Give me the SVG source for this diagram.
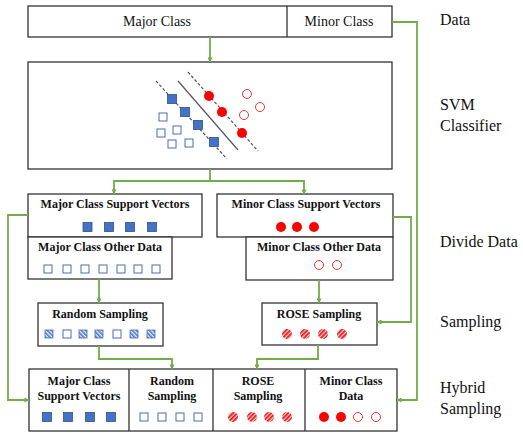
<svg xmlns="http://www.w3.org/2000/svg" width="523" height="433" viewBox="0 0 523 433">
<defs>
<style>
.box{fill:#fff;stroke:#333;stroke-width:1.3}
.t{font-family:"Liberation Serif","Times New Roman",serif;fill:#111}
.tb{font-family:"Liberation Serif","Times New Roman",serif;font-weight:bold;font-size:12px;fill:#111;text-anchor:middle}
.lab{font-family:"Liberation Serif","Times New Roman",serif;font-size:16px;fill:#111}
.c{fill:none;stroke:#70AD47;stroke-width:1.8;marker-end:url(#ah)}
.cn{fill:none;stroke:#70AD47;stroke-width:1.8}
.sf{fill:#4472C4;stroke:#2F528F;stroke-width:0.8}
.se{fill:#fff;stroke:#4a6fb0;stroke-width:1}
.sh{fill:url(#hb);stroke:#4a6fb0;stroke-width:0.8}
.cf{fill:#f00}
.ce{fill:#fff;stroke:#e33;stroke-width:1}
.ch{fill:url(#hr)}
</style>
<marker id="ah" viewBox="0 0 6 6" refX="5.5" refY="3" markerWidth="5" markerHeight="5" markerUnits="userSpaceOnUse" orient="auto">
<path d="M0,0 L6,3 L0,6 Z" fill="#70AD47"/>
</marker>
<pattern id="hb" width="3" height="3" patternUnits="userSpaceOnUse" patternTransform="rotate(-45)">
<rect width="3" height="3" fill="#e4ebf7"/><rect width="1.5" height="3" fill="#4472C4"/>
</pattern>
<pattern id="hr" width="3" height="3" patternUnits="userSpaceOnUse" patternTransform="rotate(45)">
<rect width="3" height="3" fill="#fbd0d0"/><rect width="1.8" height="3" fill="#ee1c1c"/>
</pattern>
</defs>

<g id="labels">
<text class="lab" x="440" y="25">Data</text>
<text class="lab" x="440" y="110">SVM</text>
<text class="lab" x="440" y="131">Classifier</text>
<text class="lab" x="440" y="247">Divide Data</text>
<text class="lab" x="440" y="327">Sampling</text>
<text class="lab" x="440" y="393">Hybrid</text>
<text class="lab" x="440" y="414">Sampling</text>
</g>

<g id="data">
<rect class="box" x="28" y="6" width="364" height="31"/>
<line x1="287" y1="6" x2="287" y2="37" stroke="#333" stroke-width="1.3"/>
<text class="t" x="157" y="26" font-size="14" text-anchor="middle">Major Class</text>
<text class="t" x="339" y="26" font-size="14" text-anchor="middle">Minor Class</text>
</g>

<g id="svm">
<rect class="box" x="28" y="62" width="364" height="107"/>
<line x1="156" y1="81" x2="227" y2="159" stroke="#555" stroke-width="1.2" stroke-dasharray="3,2"/>
<line x1="178" y1="81" x2="238" y2="150" stroke="#555" stroke-width="1.2"/>
<line x1="188" y1="72" x2="258" y2="151" stroke="#555" stroke-width="1.2" stroke-dasharray="3,2"/>
<rect class="sf" x="167.5" y="94.5" width="9" height="9"/>
<rect class="sf" x="180.5" y="107.5" width="9" height="9"/>
<rect class="sf" x="193.5" y="120.5" width="9" height="9"/>
<rect class="sf" x="209.5" y="137.5" width="9" height="9"/>
<rect class="se" x="159" y="113" width="8" height="8"/>
<rect class="se" x="157" y="129" width="8" height="8"/>
<rect class="se" x="173" y="126" width="8" height="8"/>
<rect class="se" x="168" y="140" width="8" height="8"/>
<rect class="se" x="185" y="139" width="8" height="8"/>
<circle class="cf" cx="209" cy="96" r="5"/>
<circle class="cf" cx="222" cy="112" r="5"/>
<circle class="cf" cx="242" cy="133" r="5"/>
<circle class="ce" cx="247" cy="94" r="4.5"/>
<circle class="ce" cx="260" cy="107" r="4.5"/>
<circle class="ce" cx="244" cy="115" r="4.5"/>
</g>

<g id="major-sv">
<rect class="box" x="28" y="194" width="174" height="43"/>
<text class="tb" x="115" y="208">Major Class Support Vectors</text>
<rect class="sf" x="83" y="222.5" width="9" height="9"/>
<rect class="sf" x="104.5" y="222.5" width="9" height="9"/>
<rect class="sf" x="125.5" y="222.5" width="9" height="9"/>
<rect class="sf" x="147.5" y="222.5" width="9" height="9"/>
</g>

<g id="major-other">
<rect class="box" x="28" y="237" width="144" height="42"/>
<text class="tb" x="100" y="251">Major Class Other Data</text>
<rect class="se" x="44" y="265" width="8" height="8"/>
<rect class="se" x="63" y="265" width="8" height="8"/>
<rect class="se" x="81" y="265" width="8" height="8"/>
<rect class="se" x="99" y="265" width="8" height="8"/>
<rect class="se" x="117" y="265" width="8" height="8"/>
<rect class="se" x="134" y="265" width="8" height="8"/>
<rect class="se" x="152" y="265" width="8" height="8"/>
</g>

<g id="minor-sv">
<rect class="box" x="217" y="194" width="176" height="43"/>
<text class="tb" x="306" y="208">Minor Class Support Vectors</text>
<circle class="cf" cx="281" cy="227" r="5"/>
<circle class="cf" cx="297" cy="227" r="5"/>
<circle class="cf" cx="314" cy="227" r="5"/>
</g>

<g id="minor-other">
<rect class="box" x="246" y="237" width="147" height="43"/>
<text class="tb" x="319" y="251">Minor Class Other Data</text>
<circle class="ce" cx="319" cy="265" r="4.5"/>
<circle class="ce" cx="337" cy="265" r="4.5"/>
</g>

<g id="random-sampling">
<rect class="box" x="38" y="303" width="125" height="43"/>
<text class="tb" x="100" y="318">Random Sampling</text>
<rect class="sh" x="45" y="330" width="8" height="8"/>
<rect class="se" x="63" y="330" width="8" height="8"/>
<rect class="sh" x="79" y="330" width="8" height="8"/>
<rect class="sh" x="95" y="330" width="8" height="8"/>
<rect class="se" x="113" y="330" width="8" height="8"/>
<rect class="sh" x="130" y="330" width="8" height="8"/>
<rect class="sh" x="147" y="330" width="8" height="8"/>
</g>

<g id="rose-sampling">
<rect class="box" x="262" y="303" width="115" height="42"/>
<text class="tb" x="319" y="318">ROSE Sampling</text>
<circle class="ch" cx="287" cy="334" r="5"/>
<circle class="ch" cx="305" cy="334" r="5"/>
<circle class="ch" cx="323" cy="334" r="5"/>
<circle class="ch" cx="342" cy="334" r="5"/>
</g>

<g id="hybrid">
<rect class="box" x="29" y="369" width="368" height="62"/>
<line x1="129" y1="369" x2="129" y2="431" stroke="#333" stroke-width="1.3"/>
<line x1="213" y1="369" x2="213" y2="431" stroke="#333" stroke-width="1.3"/>
<line x1="305" y1="369" x2="305" y2="431" stroke="#333" stroke-width="1.3"/>
<text class="tb" x="79" y="385">Major Class</text>
<text class="tb" x="79" y="400">Support Vectors</text>
<text class="tb" x="172" y="385">Random</text>
<text class="tb" x="172" y="400">Sampling</text>
<text class="tb" x="258" y="385">ROSE</text>
<text class="tb" x="258" y="400">Sampling</text>
<text class="tb" x="351" y="385">Minor Class</text>
<text class="tb" x="351" y="400">Data</text>
<rect class="sf" x="42.5" y="412.5" width="9" height="9"/>
<rect class="sf" x="63.5" y="412.5" width="9" height="9"/>
<rect class="sf" x="85.5" y="412.5" width="9" height="9"/>
<rect class="sf" x="106.5" y="412.5" width="9" height="9"/>
<rect class="se" x="140" y="413" width="8" height="8"/>
<rect class="se" x="158" y="413" width="8" height="8"/>
<rect class="se" x="176" y="413" width="8" height="8"/>
<rect class="se" x="194" y="413" width="8" height="8"/>
<circle class="ch" cx="233" cy="417" r="5"/>
<circle class="ch" cx="252" cy="417" r="5"/>
<circle class="ch" cx="269" cy="417" r="5"/>
<circle class="ch" cx="287" cy="417" r="5"/>
<circle class="cf" cx="324" cy="417" r="5"/>
<circle class="cf" cx="341" cy="417" r="5"/>
<circle class="ce" cx="358" cy="417" r="4.5"/>
<circle class="ce" cx="376" cy="417" r="4.5"/>
</g>

<g id="connectors">
<path class="c" d="M210,37 V62"/>
<path class="c" d="M392,22 H417 V400 H397"/>
<path class="cn" d="M210,169 V181"/>
<path class="c" d="M210,181 H114 V194"/>
<path class="c" d="M210,181 H304 V194"/>
<path class="c" d="M28,215 H8 V400 H29"/>
<path class="c" d="M393,217 H411 V322 H377"/>
<path class="c" d="M99,279 V303"/>
<path class="c" d="M319,280 V303"/>
<path class="c" d="M99,346 V359 H172 V369"/>
<path class="c" d="M318,345 V359 H257 V369"/>
</g>
</svg>
